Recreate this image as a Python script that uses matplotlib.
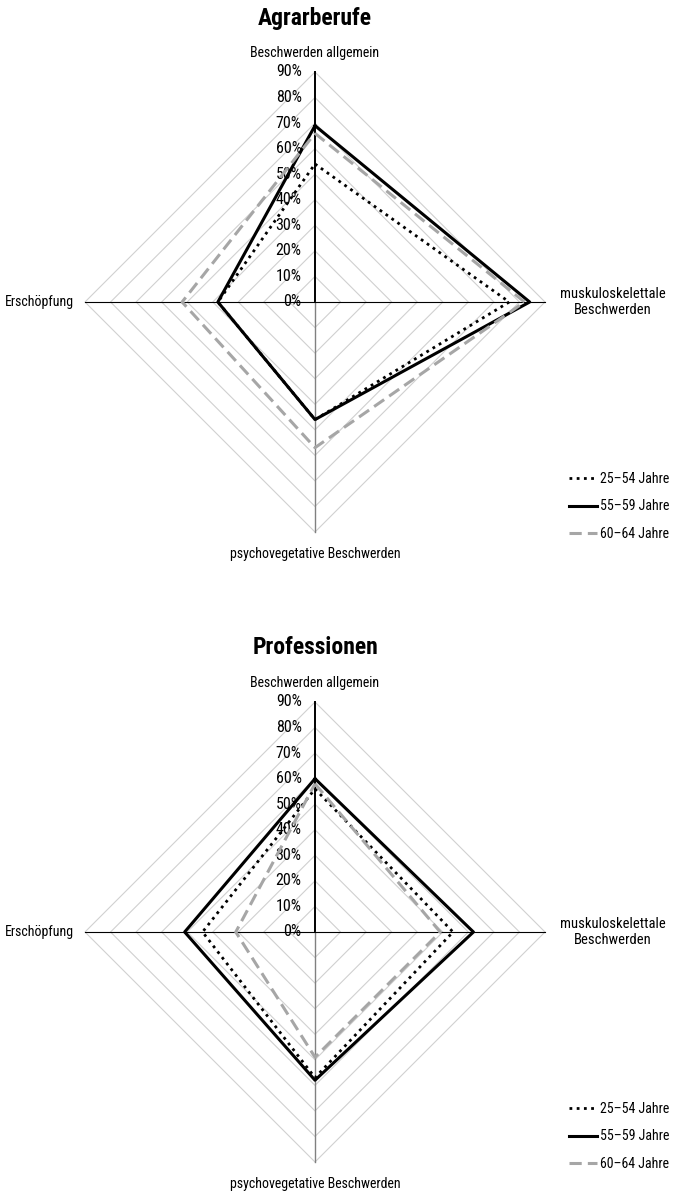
import matplotlib
matplotlib.use("Agg")
import matplotlib.pyplot as plt
from matplotlib import font_manager
import numpy as np

names = sorted({f.name for f in font_manager.fontManager.ttflist})
cands = [n for n in ['Roboto Condensed', 'DejaVu Sans Condensed', 'Liberation Sans Narrow',
                     'Open Sans Condensed', 'Noto Sans', 'DejaVu Sans'] if n in names]
plt.rcParams['font.family'] = cands
plt.rcParams['font.stretch'] = 'condensed'

# axis order: top, right, bottom, left
categories = ["Beschwerden allgemein", "muskuloskelettale\nBeschwerden",
              "psychovegetative Beschwerden", "Erschöpfung"]
series_labels = ["25\u201354 Jahre", "55\u201359 Jahre", "60\u201364 Jahre"]
tick_values = [0, 10, 20, 30, 40, 50, 60, 70, 80, 90]

agrar_25_54 = [54, 76, 46, 38]
agrar_55_59 = [69, 84, 46, 38]
agrar_60_64 = [66, 82, 57, 52]

prof_25_54 = [56, 54, 57, 44]
prof_55_59 = [60, 62, 58, 51]
prof_60_64 = [58, 49, 49, 31]

charts = [
    ("Agrarberufe", [agrar_25_54, agrar_55_59, agrar_60_64]),
    ("Professionen", [prof_25_54, prof_55_59, prof_60_64]),
]

W, H = 678, 1191
fig = plt.figure(figsize=(W / 100, H / 100), dpi=100)

# directions for top, right, bottom, left
dirs = np.array([[0, 1], [1, 0], [0, -1], [-1, 0]])

styles = [
    dict(color="black", lw=2.0, linestyle=(0, (1, 1.6))),
    dict(color="black", lw=2.2, linestyle="-"),
    dict(color="#a6a6a6", lw=2.2, linestyle=(0, (4, 2))),
]

px_per_unit = 230 / 90.0
panels = [(0, 595, 302), (596, 1191, 932)]  # pixel top, bottom, center y
cx = 315

def to_xy(vals):
    v = np.asarray(vals, dtype=float)
    pts = dirs * v[:, None]
    return np.vstack([pts, pts[:1]])

for (title, data), (ptop, pbot, cy) in zip(charts, panels):
    ax = fig.add_axes([0, 1 - pbot / H, 1, (pbot - ptop) / H])
    ax.set_xlim(-cx / px_per_unit, (W - cx) / px_per_unit)
    ax.set_ylim(-(pbot - cy) / px_per_unit, (cy - ptop) / px_per_unit)
    ax.axis("off")

    # diamond gridlines
    for t in tick_values[1:]:
        g = to_xy([t] * 4)
        ax.plot(g[:, 0], g[:, 1], color="#d0d0d0", lw=0.8, zorder=1)

    rmax = tick_values[-1]
    ax.plot([0, 0], [0, rmax], color="black", lw=1.4, zorder=2)
    ax.plot([0, 0], [0, -rmax], color="#808080", lw=1.0, zorder=2)
    ax.plot([-rmax, rmax], [0, 0], color="black", lw=0.8, zorder=2)

    for t in tick_values:
        ax.text(-5.2, t, f"{t}%", ha="right", va="center", fontsize=11.5, zorder=3)

    ax.text(0, rmax + 7.5, categories[0], ha="center", va="center", fontsize=10)
    ax.text(116.5, 0, categories[1], ha="center", va="center", fontsize=10.5,
            linespacing=1.25)
    ax.text(0, -rmax - 8.5, categories[2], ha="center", va="center", fontsize=10)
    ax.text(-121.5, 0, categories[3], ha="left", va="center", fontsize=10)

    ax.text(0, 284 / px_per_unit, title, ha="center", va="center",
            fontsize=17, fontweight="bold")

    handles = []
    for vals, st, lab in zip(data, styles, series_labels):
        p = to_xy(vals)
        h, = ax.plot(p[:, 0], p[:, 1], label=lab, zorder=4, **st)
        handles.append(h)

    ax.legend(handles=handles, loc="center left", frameon=False,
              bbox_to_anchor=(94.5, -80), bbox_transform=ax.transData,
              fontsize=10, handlelength=2.0, handletextpad=0.25,
              labelspacing=0.95)

fig.savefig("out.png", dpi=100)
